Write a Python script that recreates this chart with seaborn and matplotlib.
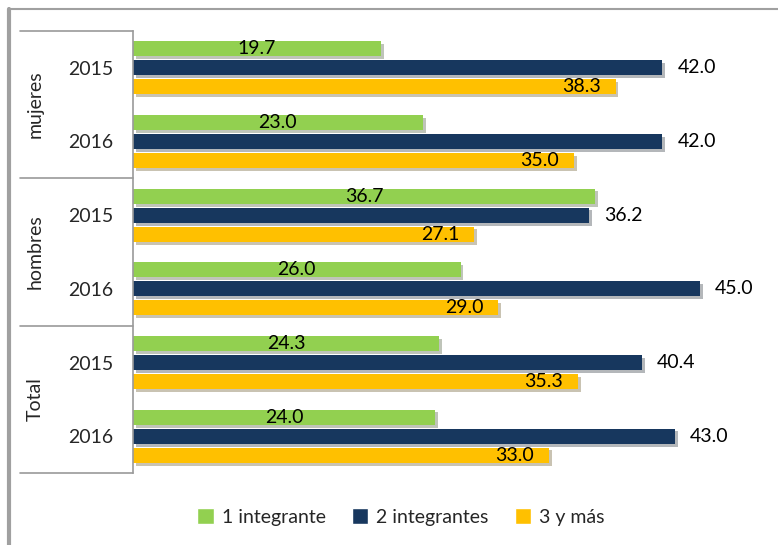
import numpy as np
import pandas as pd
import matplotlib
matplotlib.use("Agg")
import matplotlib.pyplot as plt
import matplotlib.patheffects as pe
from matplotlib.transforms import blended_transform_factory
import seaborn as sns

# -----------------------------------------------------------------
# datos
# -----------------------------------------------------------------
grupos = ["mujeres", "mujeres", "hombres", "hombres", "Total", "Total"]
anios = ["2015", "2016", "2015", "2016", "2015", "2016"]
series = ["1 integrante", "2 integrantes", "3 y más"]
uno = [19.7, 23.0, 36.7, 26.0, 24.3, 24.0]
dos = [42.0, 42.0, 36.2, 45.0, 40.4, 43.0]
tres = [38.3, 35.0, 27.1, 29.0, 35.3, 33.0]
colores = ["#92D050", "#17375E", "#FFC000"]

filas = [f"{g} {a}" for g, a in zip(grupos, anios)]
df = pd.DataFrame({
    "fila": filas * 3,
    "serie": np.repeat(series, len(filas)),
    "valor": uno + dos + tres,
})

sns.set_theme(style="white")
plt.rcParams["font.family"] = ["Lato", "DejaVu Sans"]
FS = 14

fig = plt.figure(figsize=(7.78, 5.45), dpi=100)
ax = fig.add_axes([133 / 778, 1 - 473 / 545, 630 / 778, 442 / 545])

sns.barplot(data=df, y="fila", x="valor", hue="serie", order=filas,
            hue_order=series, palette=colores, orient="h",
            width=0.775, gap=0.2, saturation=1, ax=ax, legend=True)

sombra = [pe.SimplePatchShadow(offset=(2, -2), alpha=0.3), pe.Normal()]
for cont in ax.containers:
    for p in cont:
        p.set_path_effects(sombra)
        p.set_edgecolor("none")

# etiquetas de valores
for i, cont in enumerate(ax.containers):
    for p in cont:
        w = p.get_width()
        yc = p.get_y() + p.get_height() / 2
        if i == 0:
            ax.text(w / 2, yc, f"{w:.1f}", ha="center", va="center", fontsize=FS, color="black")
        elif i == 1:
            ax.text(w + 1.2, yc, f"{w:.1f}", ha="left", va="center", fontsize=FS, color="black")
        else:
            ax.text(w - 1.2, yc, f"{w:.1f}", ha="right", va="center", fontsize=FS, color="black")

ax.set_xlim(0, 50)
ax.set_ylim(5.5, -0.5)
ax.set_xlabel("")
ax.set_ylabel("")
ax.set_xticks([])
ax.set_yticks(range(len(filas)))
ax.set_yticklabels(anios, fontsize=FS)
ax.tick_params(axis="y", length=0, pad=14)
for s in ["top", "right", "bottom"]:
    ax.spines[s].set_visible(False)
ax.spines["left"].set_color("#9a9a9a")
ax.spines["left"].set_linewidth(1.2)

# eje de categorías jerárquico
tr = blended_transform_factory(ax.transAxes, ax.transData)
for yb in [-0.5, 1.5, 3.5, 5.5]:
    ax.plot([-0.179, 0], [yb, yb], color="#9a9a9a", lw=1.2, transform=tr, clip_on=False)
for k, g in enumerate(["mujeres", "hombres", "Total"]):
    ax.text(-0.155, 2 * k + 0.5, g, rotation=90, ha="center", va="center",
            fontsize=FS, transform=tr)

# leyenda
h, l = ax.get_legend_handles_labels()
ax.legend(h, l, loc="center", bbox_to_anchor=(401 / 778, 1 - 517 / 545),
          bbox_transform=fig.transFigure, ncol=3, frameon=False, fontsize=FS,
          handlelength=0.85, handleheight=0.85, handletextpad=0.4, columnspacing=1.35)

# marco exterior
fig.add_artist(plt.Line2D([9 / 778, 9 / 778], [0, 1 - 9 / 545], color="#a0a0a0", lw=3,
                          transform=fig.transFigure))
fig.add_artist(plt.Line2D([9 / 778, 1], [1 - 9 / 545, 1 - 9 / 545], color="#a0a0a0", lw=1.5,
                          transform=fig.transFigure))

fig.savefig("out.png", dpi=100)
